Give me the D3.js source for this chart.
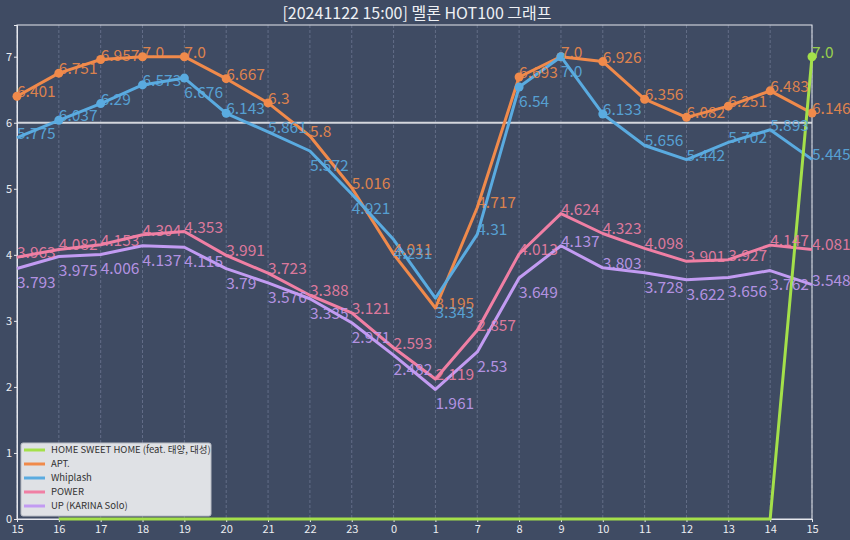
<!DOCTYPE html>
<html>
  <head>
    <meta charset="utf-8" />
    <script src="https://d3js.org/d3.v7.min.js"></script>
    <style>
      body { margin: 0; background: #3f4b63; }
      text { font-family: "Noto Sans CJK KR", "Noto Sans", sans-serif; }
    </style>
  </head>
  <body>
    <svg id="chart" width="850" height="540"></svg>
    <script>
      // data
      const categories = ["15","16","17","18","19","20","21","22","23","0","1","7","8","9","10","11","12","13","14","15"];
      const homeSweetHome = [null,0,0,0,0,0,0,0,0,0,0,0,0,0,0,0,0,0,0,7.0];
      const apt = [6.401,6.751,6.957,7.0,7.0,6.667,6.3,5.8,5.016,4.011,3.195,4.717,6.693,7.0,6.926,6.356,6.082,6.251,6.483,6.146];
      const whiplash = [5.775,6.037,6.29,6.573,6.676,6.143,5.861,5.572,4.921,4.231,3.343,4.31,6.54,7.0,6.133,5.656,5.442,5.702,5.893,5.445];
      const power = [3.963,4.082,4.153,4.304,4.353,3.991,3.723,3.388,3.121,2.593,2.119,2.857,4.013,4.624,4.323,4.098,3.901,3.927,4.147,4.081];
      const up = [3.793,3.975,4.006,4.137,4.115,3.79,3.576,3.335,2.971,2.482,1.961,2.53,3.649,4.137,3.803,3.728,3.622,3.656,3.762,3.548];
      const yTicks = [0,1,2,3,4,5,6,7];
      const title = "[20241122 15:00] 멜론 HOT100 그래프";

      const series = [
        { name: "HOME SWEET HOME (feat. 태양, 대성)", values: homeSweetHome, color: "#a4e04a" },
        { name: "APT.", values: apt, color: "#f08a4b" },
        { name: "Whiplash", values: whiplash, color: "#5aabe0" },
        { name: "POWER", values: power, color: "#f07fa4" },
        { name: "UP (KARINA Solo)", values: up, color: "#c29bf2" },
      ];

      const svg = d3.select("#chart");
      const margin = { top: 25, right: 38, bottom: 21, left: 17 };
      const width = 850, height = 540;

      const x = d3.scaleLinear().domain([0, categories.length - 1]).range([margin.left, width - margin.right]);
      const y = d3.scaleLinear().domain([0, 7.48]).range([height - margin.bottom, margin.top]);

      // vertical dashed grid
      svg.append("g")
        .selectAll("line")
        .data(d3.range(categories.length))
        .join("line")
        .attr("x1", (d) => x(d)).attr("x2", (d) => x(d))
        .attr("y1", y(7.48)).attr("y2", y(0))
        .attr("stroke", "#6c7691")
        .attr("stroke-width", 0.8)
        .attr("stroke-dasharray", "3,2");

      // reference line at 6
      svg.append("line")
        .attr("x1", x(0)).attr("x2", x(categories.length - 1))
        .attr("y1", y(6)).attr("y2", y(6))
        .attr("stroke", "#d4d6dc")
        .attr("stroke-width", 1.8);

      // frame
      svg.append("rect")
        .attr("x", x(0)).attr("y", y(7.48))
        .attr("width", x(categories.length - 1) - x(0))
        .attr("height", y(0) - y(7.48))
        .attr("fill", "none")
        .attr("stroke", "#e6e8ee")
        .attr("stroke-width", 1);

      // axes
      const xAxis = svg.append("g")
        .attr("transform", "translate(0," + y(0) + ")")
        .call(d3.axisBottom(x).tickValues(d3.range(categories.length)).tickFormat((i) => categories[i]).tickSize(3).tickPadding(3));
      const yAxis = svg.append("g")
        .attr("transform", "translate(" + x(0) + ",0)")
        .call(d3.axisLeft(y).tickValues(yTicks).tickFormat(d3.format("d")).tickSize(3).tickPadding(2));
      [xAxis, yAxis].forEach((g) => {
        g.select(".domain").attr("stroke", "#e6e8ee");
        g.selectAll(".tick line").attr("stroke", "#e6e8ee");
        g.selectAll(".tick text").attr("fill", "#eceef2").style("font-size", "11px");
      });

      const line = d3.line()
        .defined((d) => d != null)
        .x((d, i) => x(i))
        .y((d) => y(d));

      // draw lines, green last so it sits on top
      const order = [1, 2, 3, 4, 0];
      order.forEach((k) => {
        const s = series[k];
        svg.append("path")
          .datum(s.values)
          .attr("d", line)
          .attr("fill", "none")
          .attr("stroke", s.color)
          .attr("stroke-width", 3)
          .attr("stroke-linejoin", "round");
        svg.append("g")
          .selectAll("circle")
          .data(s.values.map((v, i) => ({ v, i })).filter((d) => d.v != null && d.v >= 6))
          .join("circle")
          .attr("cx", (d) => x(d.i))
          .attr("cy", (d) => y(d.v))
          .attr("r", 4.5)
          .attr("fill", s.color);
      });

      // value labels: put a label below its point when a higher-ranked series sits close by
      const fmt = (v) => (Number.isInteger(v) ? v.toFixed(1) : String(v));
      series.forEach((s, k) => {
        const pts = s.values
          .map((v, i) => ({ v, i }))
          .filter((d) => d.v != null && d.v !== 0);
        svg.append("g")
          .selectAll("text")
          .data(pts)
          .join("text")
          .attr("x", (d) => x(d.i))
          .attr("y", (d) => {
            const near = series.slice(0, k).some((o) => o.values[d.i] != null && Math.abs(o.values[d.i] - d.v) < 0.4);
            return near ? y(d.v - 0.3) : y(d.v) + 1;
          })
          .attr("fill", s.color)
          .attr("fill-opacity", 0.9)
          .style("font-size", "15.5px")
          .text((d) => fmt(d.v));
      });

      // title
      svg.append("text")
        .attr("x", 417).attr("y", 19)
        .attr("text-anchor", "middle")
        .attr("fill", "#eef0f4")
        .style("font-size", "16px")
        .text(title);

      // legend
      const lg = svg.append("g").attr("transform", "translate(21,443)");
      lg.append("rect")
        .attr("width", 190).attr("height", 73)
        .attr("rx", 2)
        .attr("fill", "#dfe1e5")
        .attr("stroke", "#b8bcc4");
      series.forEach((s, i) => {
        lg.append("line")
          .attr("x1", 3).attr("x2", 24)
          .attr("y1", 7 + i * 14).attr("y2", 7 + i * 14)
          .attr("stroke", s.color)
          .attr("stroke-width", 3);
        lg.append("text")
          .attr("x", 30).attr("y", 7 + i * 14)
          .attr("dy", "0.35em")
          .attr("fill", "#333")
          .style("font-size", "9.5px")
          .text(s.name);
      });
    </script>
  </body>
</html>
